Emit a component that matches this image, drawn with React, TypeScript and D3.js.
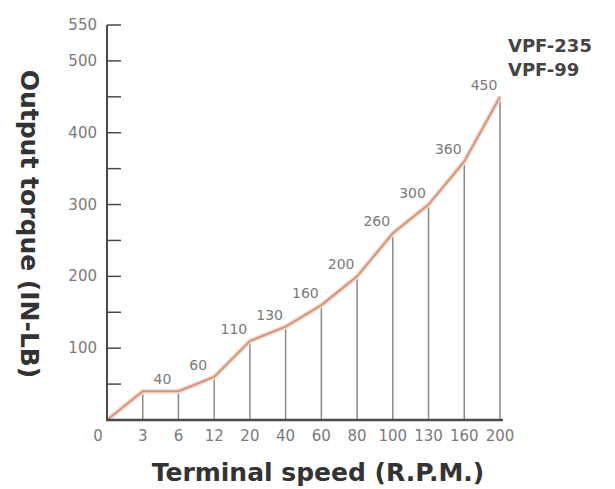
import React from "react";
import { scalePoint, scaleLinear, line } from "d3";

// terminal speed (R.P.M.) categories along the bottom
const speeds = ["0", "3", "6", "12", "20", "40", "60", "80", "100", "130", "160", "200"];
// output torque (IN-LB) at each speed
const torque = [0, 40, 40, 60, 110, 130, 160, 200, 260, 300, 360, 450];
// left axis labels (minor ticks every 50 have no label)
const yLabels = [100, 200, 300, 400, 500, 550];
const yMinorTicks = [50, 150, 250, 350, 450];
const models = ["VPF-235", "VPF-99"];

const W = 615;
const H = 489;

export default function App() {
  const x = scalePoint<string>().domain(speeds).range([107, 500]);
  const y = scaleLinear().domain([0, 550]).range([420, 25]);

  const pts = speeds.map((s, i) => ({ s, v: torque[i] }));
  const path = line<{ s: string; v: number }>()
    .x((d) => x(d.s) as number)
    .y((d) => y(d.v))(pts);

  const axisColor = "#4a4a4a";
  const textGray = "#7a7a7a";

  return (
    <svg
      width={W}
      height={H}
      style={{ position: "absolute", left: 0, top: 0, background: "#fff" }}
    >
      {/* drop lines */}
      {pts.slice(1).map((d) => (
        <line
          key={"d" + d.s}
          x1={x(d.s)}
          x2={x(d.s)}
          y1={y(d.v)}
          y2={y(0)}
          stroke="#8a8a8a"
          strokeWidth={1.5}
        />
      ))}

      {/* torque curve */}
      <path d={path || ""} fill="none" stroke="#f6dccf" strokeWidth={5} />
      <path d={path || ""} fill="none" stroke="#cf9680" strokeWidth={2} />

      {/* value labels */}
      {pts.map((d, i) =>
        i < 2 ? null : (
          <text
            key={"l" + d.s}
            x={(x(d.s) as number) - 16}
            y={y(d.v) - 7}
            textAnchor="middle"
            fontFamily="DejaVu Sans"
            fontSize={14}
            fill={textGray}
          >
            {d.v}
          </text>
        )
      )}

      {/* y axis */}
      <line x1={107} x2={107} y1={y(550)} y2={y(0)} stroke={axisColor} strokeWidth={2} />
      {[...yLabels, ...yMinorTicks].map((t) => (
        <line key={"t" + t} x1={107} x2={121} y1={y(t)} y2={y(t)} stroke={axisColor} strokeWidth={1.5} />
      ))}
      {yLabels.map((t) => (
        <text
          key={"y" + t}
          x={97}
          y={y(t) + 5}
          textAnchor="end"
          fontFamily="DejaVu Sans"
          fontSize={15}
          fill={textGray}
        >
          {t}
        </text>
      ))}

      {/* x axis */}
      <line x1={106} x2={503} y1={y(0)} y2={y(0)} stroke={axisColor} strokeWidth={2.5} />
      {speeds.map((s, i) => (
        <text
          key={"x" + s}
          x={(x(s) as number) + (i === 0 ? -9 : 0)}
          y={441}
          textAnchor="middle"
          fontFamily="DejaVu Sans"
          fontSize={15}
          fill={textGray}
        >
          {s}
        </text>
      ))}

      {/* titles */}
      <text
        x={318}
        y={481}
        textAnchor="middle"
        fontFamily="DejaVu Sans"
        fontWeight="bold"
        fontSize={25}
        fill="#333"
      >
        Terminal speed (R.P.M.)
      </text>
      <text
        transform={`translate(21,224) rotate(90)`}
        textAnchor="middle"
        fontFamily="DejaVu Sans"
        fontWeight="bold"
        fontSize={25}
        fill="#333"
      >
        Output torque (IN-LB)
      </text>

      {models.map((m, i) => (
        <text
          key={m}
          x={508}
          y={52 + i * 24}
          fontFamily="DejaVu Sans"
          fontWeight="bold"
          fontSize={18}
          fill="#444"
        >
          {m}
        </text>
      ))}
    </svg>
  );
}
